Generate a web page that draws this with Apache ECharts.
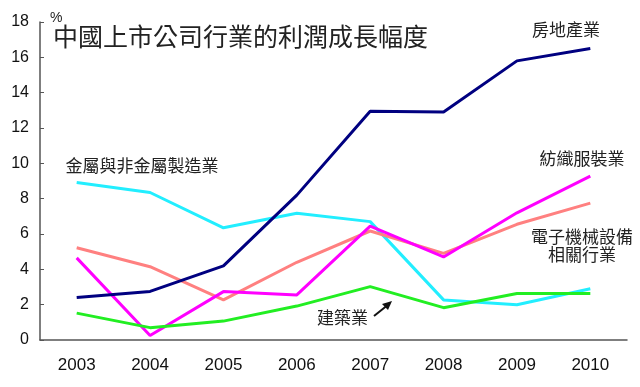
<!DOCTYPE html>
<html><head><meta charset="utf-8">
<script src="https://cdn.jsdelivr.net/npm/echarts@6/dist/echarts.min.js"></script>
<style>html,body{margin:0;padding:0;background:#fff}#c{width:640px;height:387px}</style>
</head><body><div id="c"></div>
<script>
const years = ['2003','2004','2005','2006','2007','2008','2009','2010'];
const realEstate = [2.4, 2.75, 4.2, 8.2, 12.95, 12.9, 15.8, 16.5];
const metals = [8.92, 8.35, 6.35, 7.17, 6.7, 2.27, 2.0, 2.9];
const textiles = [4.65, 0.25, 2.74, 2.55, 6.45, 4.7, 7.2, 9.28];
const electronics = [5.22, 4.15, 2.27, 4.4, 6.17, 4.9, 6.55, 7.75];
const construction = [1.52, 0.7, 1.07, 1.92, 3.02, 1.83, 2.63, 2.63];
const yTicks = {min: 0, max: 18, interval: 2};
const FONT = "'Liberation Sans','Noto Sans CJK TC',sans-serif";

const chart = echarts.init(document.getElementById('c'), null, {renderer: 'canvas'});
function line(name, data, color) {
  return {name, type: 'line', data, symbol: 'none', lineStyle: {color, width: 3}, itemStyle: {color}, animation: false, z: 3};
}
const txt = (x, y, text, size, align) => ({
  type: 'text', x, y, style: {text, font: size + 'px ' + FONT, fill: '#222', align: align || 'left', verticalAlign: 'middle'}
});
chart.setOption({
  animation: false,
  grid: {left: 40, right: 13, top: 22, bottom: 47},
  xAxis: {
    type: 'category', data: years, boundaryGap: true,
    axisLine: {lineStyle: {color: '#555', width: 1.5}},
    axisTick: {inside: true, length: 5, lineStyle: {color: '#555'}},
    axisLabel: {color: '#111', fontSize: 17, fontFamily: FONT, margin: 17}
  },
  yAxis: {
    type: 'value', min: yTicks.min, max: yTicks.max, interval: yTicks.interval,
    axisLine: {show: true, lineStyle: {color: '#555', width: 1.5}},
    axisTick: {show: true, inside: true, length: 4, lineStyle: {color: '#555'}},
    splitLine: {show: false},
    axisLabel: {color: '#111', fontSize: 16, fontFamily: FONT, margin: 11}
  },
  series: [
    line('金屬與非金屬製造業', metals, '#22eeff'),
    line('電子機械設備相關行業', electronics, '#ff8080'),
    line('紡織服裝業', textiles, '#ff00ff'),
    line('建築業', construction, '#22ee22'),
    line('房地產業', realEstate, '#000080')
  ],
  graphic: [
    txt(50, 18, '%', 14),
    txt(53, 39, '中國上市公司行業的利潤成長幅度', 25),
    txt(566, 31, '房地產業', 17, 'center'),
    txt(582, 160, '紡織服裝業', 17, 'center'),
    txt(142, 167, '金屬與非金屬製造業', 17, 'center'),
    txt(582, 238, '電子機械設備', 17, 'center'),
    txt(582, 256, '相關行業', 17, 'center'),
    txt(368, 319, '建築業', 17, 'right'),
    {type: 'line', shape: {x1: 374, y1: 316, x2: 389, y2: 304}, style: {stroke: '#111', lineWidth: 2}},
    {type: 'polygon', shape: {points: [[392, 301], [382, 304], [388, 310]]}, style: {fill: '#111'}}
  ]
});
</script></body></html>
